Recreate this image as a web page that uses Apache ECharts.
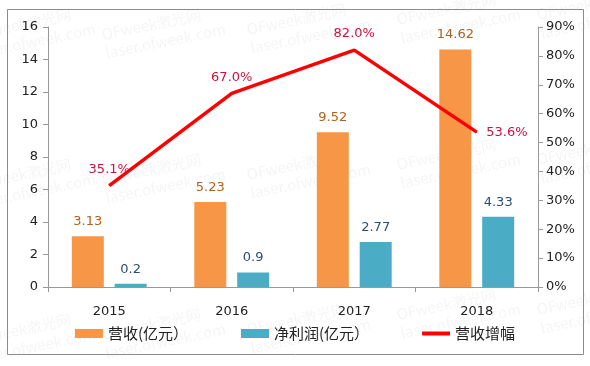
<!DOCTYPE html>
<html><head><meta charset="utf-8">
<script src="https://cdn.jsdelivr.net/npm/echarts@6/dist/echarts.min.js"></script>
<style>html,body{margin:0;padding:0;background:#fff}#c{width:590px;height:366px}</style>
</head><body><div id="c"></div>
<script>
var categories = ['2015', '2016', '2017', '2018'];
var revenue = [3.13, 5.23, 9.52, 14.62];
var netProfit = [0.2, 0.9, 2.77, 4.33];
var growth = [35.1, 67.0, 82.0, 53.6];
var seriesNames = ['营收(亿元）', '净利润(亿元）', '营收增幅'];

var font = 'DejaVu Sans';
var wm = [];
var wmPos = [[-30,25],[100,25],[245,20],[395,10],[535,5],[-30,175],[100,170],[245,165],[395,155],[535,150],[-30,330],[100,325],[245,320],[395,305],[535,300]];
wmPos.forEach(function(p){
  wm.push({type:'text', x:p[0], y:p[1], rotation:0.2, silent:true, z:-1,
    style:{text:'OFweek激光网\nlaser.ofweek.com', fill:'rgba(0,0,0,0.045)', font:'15px "Noto Sans CJK SC"', lineHeight:19}});
});
wm.push({type:'rect', shape:{x:7.5,y:9.5,width:576,height:345}, style:{fill:'none', stroke:'#8c8c8c', lineWidth:1}, silent:true});

var growthData = growth.map(function(v, i){
  return {value:v, label:{position: i === 3 ? 'right' : 'top'}};
});

var chart = echarts.init(document.getElementById('c'));
chart.setOption({
  animation:false,
  backgroundColor:'#fff',
  graphic: wm,
  grid:{left:48, right:52, top:27, bottom:79},
  legend:{
    bottom:20, left:'center', itemGap:53, itemWidth:28, itemHeight:9,
    textStyle:{fontFamily:'"Noto Sans CJK SC"', fontSize:15, color:'#222'},
    data:[{name:seriesNames[0], icon:'rect'},{name:seriesNames[1], icon:'rect'},
          {name:seriesNames[2], icon:'path://M0,0H28V4H0Z', itemStyle:{color:'#FF0000'}}]
  },
  xAxis:{type:'category', data:categories,
    axisLine:{lineStyle:{color:'#999', width:1}},
    axisTick:{show:true, length:5, lineStyle:{color:'#999'}},
    axisLabel:{fontFamily:font, fontSize:13, color:'#222', margin:18}},
  yAxis:[
    {type:'value', min:0, max:16, interval:2,
     axisLine:{show:true, lineStyle:{color:'#999'}},
     axisTick:{show:true, length:5, lineStyle:{color:'#999'}},
     splitLine:{show:false},
     axisLabel:{fontFamily:font, fontSize:13, color:'#222', margin:10}},
    {type:'value', min:0, max:90, interval:10, position:'right',
     axisLine:{show:true, lineStyle:{color:'#999'}},
     axisTick:{show:true, length:5, lineStyle:{color:'#999'}},
     splitLine:{show:false},
     axisLabel:{fontFamily:font, fontSize:13, color:'#222', margin:8, formatter:'{value}%'}}
  ],
  series:[
    {name:seriesNames[0], type:'bar', data:revenue, barWidth:32, barGap:'34%',
     itemStyle:{color:'#F79646'},
     label:{show:true, position:'top', distance:8, fontFamily:font, fontSize:13, color:'#B0601E'}},
    {name:seriesNames[1], type:'bar', data:netProfit, barWidth:32, barGap:'34%',
     itemStyle:{color:'#4BACC6'},
     label:{show:true, position:'top', distance:8, fontFamily:font, fontSize:13, color:'#2B4F73'}},
    {name:seriesNames[2], type:'line', yAxisIndex:1, data:growthData,
     symbol:'circle', symbolSize:1, showSymbol:true,
     lineStyle:{color:'#FF0000', width:3.5}, itemStyle:{color:'#FF0000'},
     labelLayout:{hideOverlap:false},
     label:{show:true, position:'top', distance:9, fontFamily:font, fontSize:13, color:'#C8143C',
       formatter:function(p){return p.value.toFixed(1)+'%';}}}
  ]
});
</script></body></html>
